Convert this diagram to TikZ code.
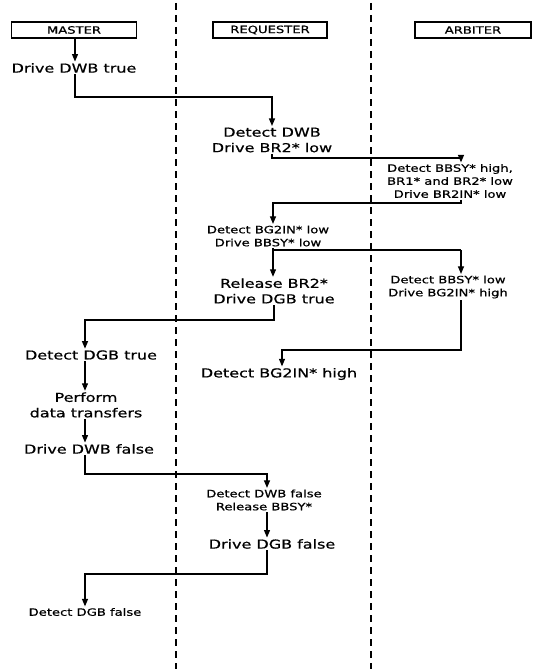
\documentclass[tikz,border=0pt]{standalone}
\usepackage{fontspec}
\setmainfont[FakeStretch=1.3,FakeBold=0.7]{DejaVu Sans}
\usetikzlibrary{arrows.meta}
\newcommand\bigtx{\fontsize{12.3}{15.5}\selectfont}
\newcommand\smalltx{\fontsize{10.1}{13}\selectfont}
\tikzset{
  lane/.style={line width=1.2pt, dash pattern=on 7pt off 5pt},
  hdr/.style={draw, line width=1.1pt, minimum height=16pt, inner sep=0pt, font=\smalltx},
  big/.style={align=center, inner sep=1.5pt, font=\bigtx},
  small/.style={align=center, inner sep=1.5pt, font=\smalltx},
  conn/.style={line width=1.1pt},
  arr/.style={line width=1.1pt, -{Triangle[length=7.5pt,width=6pt]}},
}
\begin{document}
\begin{tikzpicture}[x=1pt,y=-1pt]
\useasboundingbox (0,0) rectangle (536,669);
% lanes
\draw[lane] (176,3) -- (176,669);
\draw[lane] (371,3) -- (371,669);
% headers
\node[hdr, minimum width=125pt] (master) at (74,30) {MASTER};
\node[hdr, minimum width=114pt] (requester) at (270,30) {REQUESTER};
\node[hdr, minimum width=116pt] (arbiter) at (473,30) {ARBITER};
% x positions of connectors
\coordinate (mx) at (85,0);
\coordinate (rx) at (273,0);
\coordinate (ax) at (461,0);
% bend heights
\coordinate (b1) at (0,97);
\coordinate (b2) at (0,158);
\coordinate (b3) at (0,203);
\coordinate (b4) at (0,250);
\coordinate (b5) at (0,320);
\coordinate (b6) at (0,350);
\coordinate (b7) at (0,474);
\coordinate (b8) at (0,574);
% steps
\node[big] (n1) at (74,68) {Drive DWB true};
\node[big] (n2) at (272,140) {Detect DWB\\Drive BR2* low};
\node[small] (n3) at (450,181) {Detect BBSY* high,\\BR1* and BR2* low\\Drive BR2IN* low};
\node[small] (n4) at (268,236) {Detect BG2IN* low\\Drive BBSY* low};
\node[big] (n5) at (274,291) {Release BR2*\\Drive DGB true};
\node[small] (n6) at (448,287) {Detect BBSY* low\\Drive BG2IN* high};
\node[big] (n7) at (91,355) {Detect DGB true};
\node[big] (n8) at (86,405) {Perform\\data transfers};
\node[big] (n9) at (89,449) {Drive DWB false};
\node[big] (n10) at (279,374) {Detect BG2IN* high};
\node[small] (n11) at (264,500) {Detect DWB false\\Release BBSY*};
\node[big] (n12) at (272,544) {Drive DGB false};
\node[small] (n13) at (85,612) {Detect DGB false};
% connectors
\draw[arr] (master.south -| 75,0) -- (n1.north -| 75,0);
\draw[arr] (n1.south -| 75,0) |- (b1 -| n2) -- (n2.north);
\draw[arr] (n2.south) |- (b2 -| ax) -- (ax |- n3.north);
\draw[arr] (ax |- n3.south) |- (b3 -| rx) -- (rx |- n4.north);
\draw[conn] (n4.south -| rx) |- (b4 -| ax);
\draw[arr] (b4 -| rx) -- (rx |- n5.north);
\draw[arr] (b4 -| ax) -- (ax |- n6.north);
\draw[arr] (n5.south) |- (b5 -| mx) -- (mx |- n7.north);
\draw[arr] (ax |- n6.south) |- (b6 -| 282,0) -- (n10.north -| 282,0);
\draw[arr] (mx |- n7.south) -- (mx |- n8.north);
\draw[arr] (mx |- n8.south) -- (mx |- n9.north);
\draw[arr] (mx |- n9.south) |- (b7 -| 267,0) -- (n11.north -| 267,0);
\draw[arr] (n11.south -| 267,0) -- (n12.north -| 267,0);
\draw[arr] (n12.south -| 267,0) |- (b8 -| mx) -- (mx |- n13.north);
\end{tikzpicture}
\end{document}
